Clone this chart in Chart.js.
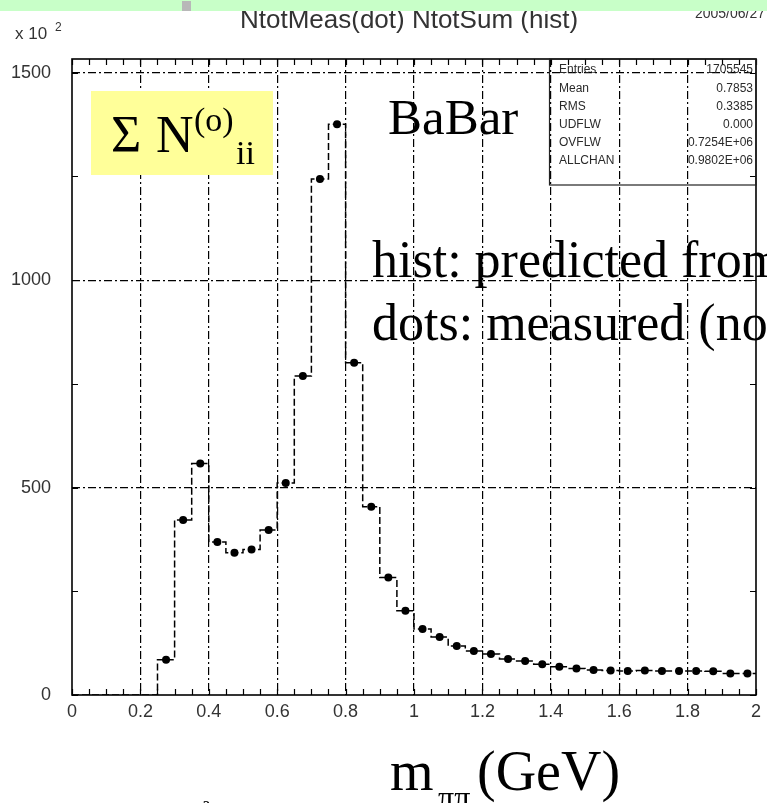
<!DOCTYPE html>
<html>
<head>
<meta charset="utf-8">
<title>NtotMeas(dot) NtotSum (hist)</title>
<script src="https://cdn.jsdelivr.net/npm/chart.js@4.4.0/dist/chart.umd.min.js"></script>
<style>
  html, body { margin: 0; padding: 0; background: #fff; }
</style>
</head>
<body>
<canvas id="myChart" width="767" height="803"></canvas>
<script>
// bin edges of the m(pi pi) histogram, GeV
const binEdges = [0, 0.05, 0.1, 0.15, 0.2, 0.25, 0.3, 0.35, 0.4, 0.45, 0.5, 0.55, 0.6, 0.65, 0.7, 0.75, 0.8,
    0.85, 0.9, 0.95, 1, 1.05, 1.1, 1.15, 1.2, 1.25, 1.3, 1.35, 1.4, 1.45, 1.5, 1.55, 1.6, 1.65, 1.7, 1.75, 1.8,
    1.85, 1.9, 1.95, 2];

// NtotSum per bin (hist), units of 10^2
const predicted = [0, 0, 0, 0, 0, 85, 422, 558, 369, 343, 351, 398, 511, 769, 1244, 1376, 801,
    454, 283, 203, 159, 140, 118, 106, 99, 87, 82, 74, 68, 64, 60, 59, 58, 59, 58, 58, 58, 57, 52, 52];

// NtotMeas per bin (dots), units of 10^2
const measured = [0, 0, 0, 0, 0, 85, 422, 558, 369, 343, 351, 398, 511, 769, 1244, 1376, 801,
    454, 283, 203, 159, 140, 118, 106, 99, 87, 82, 74, 68, 64, 60, 59, 58, 59, 58, 58, 58, 57, 52, 52];

// tick labels and minor tick positions
const xTickLabels = ['0', '0.2', '0.4', '0.6', '0.8', '1', '1.2', '1.4', '1.6', '1.8', '2'];
const yTickLabels = ['0', '500', '1000', '1500'];
const yMinorTicks = [0, 250, 500, 750, 1000, 1250, 1500];

// stats box
const statNames = ['Entries', 'Mean', 'RMS', 'UDFLW', 'OVFLW', 'ALLCHAN'];
const statValues = ['1705545', '0.7853', '0.3385', '0.000', '0.7254E+06', '0.9802E+06'];

const SANS = '"Liberation Sans", Arial, sans-serif';
const SERIF = '"Liberation Serif", "Times New Roman", serif';

// histogram outline: each bin gives a flat segment, neighbours join with a vertical step
const histPoints = [];
predicted.forEach((v, i) => {
    histPoints.push({ x: binEdges[i], y: v });
    histPoints.push({ x: binEdges[i + 1], y: v });
});

// measured dots sit at the bin centres
const dotPoints = [];
measured.forEach((v, i) => {
    if (v > 0) dotPoints.push({ x: (binEdges[i] + binEdges[i + 1]) / 2, y: v });
});

function findLabel(list, value) {
    const hit = list.find(l => Math.abs(Number(l) - value) < 1e-6);
    return hit === undefined ? null : hit;
}

// dash-dot grid only on labelled ticks, never on the frame
function gridColor(list, lo, hi) {
    return ctx => {
        if (!ctx.tick) return 'rgba(0,0,0,0)';
        const v = ctx.tick.value;
        if (findLabel(list, v) === null || v <= lo || v >= hi) return 'rgba(0,0,0,0)';
        return '#000';
    };
}

// frame plus small inward ticks on all four sides
const framePlugin = {
    id: 'frame',
    afterDatasetsDraw(chart) {
        const { ctx, chartArea: a, scales } = chart;
        ctx.save();
        ctx.strokeStyle = '#000';
        ctx.lineWidth = 1.2;
        ctx.beginPath();
        for (const t of scales.x.ticks) {
            const px = Math.round(scales.x.getPixelForValue(t.value)) + 0.5;
            ctx.moveTo(px, a.bottom); ctx.lineTo(px, a.bottom - 6);
            ctx.moveTo(px, a.top); ctx.lineTo(px, a.top + 6);
        }
        for (const t of scales.y.ticks) {
            const py = Math.round(scales.y.getPixelForValue(t.value)) + 0.5;
            ctx.moveTo(a.left, py); ctx.lineTo(a.left + 6, py);
            ctx.moveTo(a.right, py); ctx.lineTo(a.right - 6, py);
        }
        ctx.stroke();
        ctx.lineWidth = 1.6;
        ctx.strokeRect(a.left, a.top, a.right - a.left, a.bottom - a.top);
        ctx.restore();
    }
};

// titles, stats box and the slide annotations
const textPlugin = {
    id: 'texts',
    afterDraw(chart) {
        const { ctx, chartArea: a } = chart;
        ctx.save();

        // title and exponent
        ctx.fillStyle = '#333';
        ctx.font = '26px ' + SANS;
        ctx.textAlign = 'center';
        ctx.fillText('NtotMeas(dot) NtotSum (hist)', 409, 28);
        ctx.textAlign = 'right';
        ctx.font = '14px ' + SANS;
        ctx.fillText('2005/06/27', 765, 18);
        ctx.textAlign = 'left';
        ctx.font = '17px ' + SANS;
        ctx.fillText('x 10', 15, 39);
        ctx.font = '12px ' + SANS;
        ctx.fillText('2', 55, 31);

        // green strip along the top edge
        ctx.fillStyle = '#c8ffc8';
        ctx.fillRect(0, 0, 767, 11);
        ctx.fillStyle = '#b8b8b8';
        ctx.fillRect(182, 1, 9, 10);

        // stats box
        ctx.strokeStyle = '#222';
        ctx.lineWidth = 1.2;
        ctx.strokeRect(549.5, a.top, a.right - 549.5, 126);
        ctx.fillStyle = '#2a2a2a';
        ctx.font = '12px ' + SANS;
        ctx.textBaseline = 'middle';
        statNames.forEach((name, i) => {
            const y = 70 + i * 18.2;
            ctx.textAlign = 'left';
            ctx.fillText(name, 559, y);
            ctx.textAlign = 'right';
            ctx.fillText(statValues[i], 753, y);
        });
        ctx.textBaseline = 'alphabetic';

        // yellow label box
        ctx.fillStyle = '#ffff99';
        ctx.fillRect(91, 91, 182, 84);
        ctx.fillStyle = '#000';
        ctx.textAlign = 'left';
        ctx.font = '52px ' + SERIF;
        ctx.fillText('\u03A3', 111, 152);
        ctx.fillText('N', 156, 152);
        ctx.font = '34px ' + SERIF;
        ctx.fillText('(o)', 194, 131);
        ctx.fillText('ii', 236, 164);

        // annotations
        ctx.font = '51px ' + SERIF;
        ctx.fillText('BaBar', 388, 134);
        ctx.font = '52px ' + SERIF;
        ctx.fillText('hist: predicted from', 372, 277);
        ctx.fillText('dots: measured (no', 372, 340);

        // x axis title
        ctx.font = '56px ' + SERIF;
        ctx.fillText('m', 390, 790);
        ctx.font = '32px ' + SERIF;
        ctx.fillText('\u03C0\u03C0', 438, 808);
        ctx.font = '56px ' + SERIF;
        ctx.fillText('(GeV)', 477, 790);

        // footer line, mostly below the bottom edge
        ctx.font = '24px ' + SERIF;
        ctx.fillText('M.Davier      I\u00B2Bpipi/\u03C4    2', 66, 818);

        ctx.restore();
    }
};

new Chart(document.getElementById('myChart'), {
    type: 'scatter',
    data: {
        datasets: [
            {
                label: 'NtotSum (hist)',
                data: histPoints,
                showLine: true,
                borderColor: '#000',
                borderWidth: 1.5,
                borderDash: [7, 3],
                pointRadius: 0,
                fill: false
            },
            {
                label: 'NtotMeas (dot)',
                data: dotPoints,
                backgroundColor: '#000',
                borderColor: '#000',
                pointRadius: 4,
                borderWidth: 0
            }
        ]
    },
    options: {
        responsive: false,
        animation: false,
        devicePixelRatio: 1,
        layout: { padding: { top: 59, right: 6, left: 0, bottom: 0 } },
        plugins: { legend: { display: false }, tooltip: { enabled: false } },
        scales: {
            x: {
                type: 'linear',
                min: 0,
                max: 2,
                afterFit: s => { s.height = 108; },
                afterBuildTicks: s => { s.ticks = binEdges.map(v => ({ value: v })); },
                ticks: {
                    autoSkip: false,
                    maxRotation: 0,
                    padding: 6,
                    color: '#333',
                    font: { family: SANS, size: 18 },
                    callback: v => findLabel(xTickLabels, v) ?? ''
                },
                grid: { color: gridColor(xTickLabels, 0, 2), lineWidth: 1.2, drawTicks: false },
                border: { display: false, dash: [8, 3, 2, 3] }
            },
            y: {
                min: 0,
                max: 1533,
                afterFit: s => { s.width = 72; },
                afterBuildTicks: s => { s.ticks = yMinorTicks.map(v => ({ value: v })); },
                ticks: {
                    autoSkip: false,
                    padding: 21,
                    color: '#333',
                    font: { family: SANS, size: 18 },
                    callback: v => findLabel(yTickLabels, v) ?? ''
                },
                grid: { color: gridColor(yTickLabels, 0, 1533), lineWidth: 1.2, drawTicks: false },
                border: { display: false, dash: [8, 3, 2, 3] }
            }
        }
    },
    plugins: [framePlugin, textPlugin]
});
</script>
</body>
</html>
